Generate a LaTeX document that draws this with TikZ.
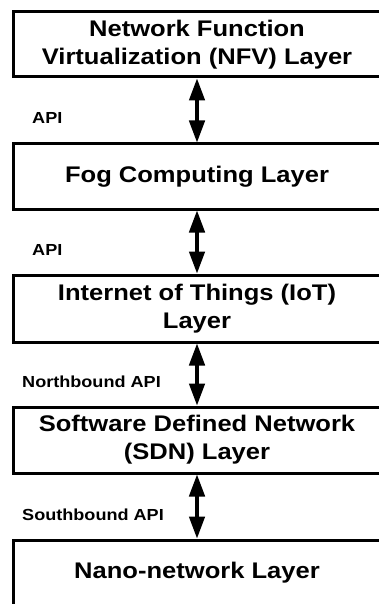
\documentclass[tikz,border=0pt]{standalone}
\usepackage{fontspec}
\setmainfont{Liberation Sans}[FakeStretch=1.13]
\usetikzlibrary{arrows.meta}
\begin{document}
\begin{tikzpicture}[x=1pt,y=-1pt,
  frame/.style={draw=black, line width=3pt, rectangle, minimum width=384pt,
    minimum height=66pt, inner sep=0pt},
  title/.style={inner sep=0pt, align=center,
    font=\fontsize{22.6}{28}\selectfont\bfseries},
  apilabel/.style={anchor=west, inner sep=0pt, font=\fontsize{16}{19}\selectfont\bfseries},
  biarrow/.style={line width=3.2pt, {Triangle[length=22pt,width=15.5pt]}-{Triangle[length=22pt,width=15.5pt]}}
]
\useasboundingbox (0,0) rectangle (378,604);

% layer frames (they run past the right edge of the page)
\node[frame, minimum height=65pt] (nfv) at (205,44.5) {};
\node[frame, minimum height=65pt] (fog) at (205,176.5) {};
\node[frame, minimum height=67pt] (iot) at (205,308.5) {};
\node[frame] (sdn) at (205,440) {};
\node[frame] (nano) at (205,573) {};

% layer titles
\node[title] (nfvt) at (197,44.5) {Network Function\\Virtualization (NFV) Layer};
\node[title] (fogt) at (197,176.5) {Fog Computing Layer};
\node[title] (iott) at (197,308.5) {Internet of Things (IoT)\\Layer};
\node[title] (sdnt) at (197,440) {Software Defined Network\\(SDN) Layer};
\node[title] (nanot) at (197,573) {Nano-network Layer};

% interfaces between neighbouring layers
\draw[biarrow] (nfvt |- nfv.south) -- (fogt |- fog.north);
\draw[biarrow] (fogt |- fog.south) -- (iott |- iot.north);
\draw[biarrow] (iott |- iot.south) -- (sdnt |- sdn.north);
\draw[biarrow] (sdnt |- sdn.south) -- (nanot |- nano.north);

\node[apilabel] (api1) at (32,118) {API};
\node[apilabel] (api2) at (32,250) {API};
\node[apilabel] (nb) at (22,382) {Northbound API};
\node[apilabel] (sb) at (22,515) {Southbound API};
\end{tikzpicture}
\end{document}
